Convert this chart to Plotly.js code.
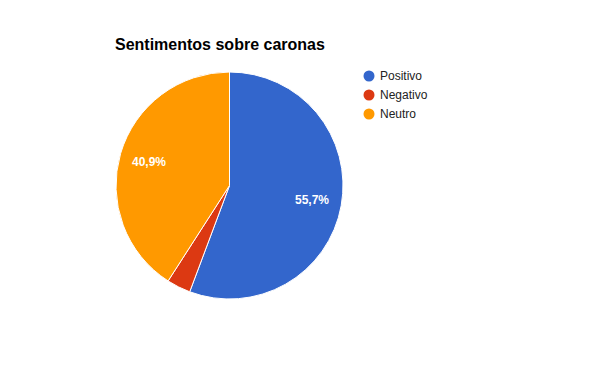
<!DOCTYPE html>
<html>
<head>
<meta charset="utf-8">
<script src="https://cdn.plot.ly/plotly-3.0.1.min.js"></script>
<style>html,body{margin:0;padding:0;background:#fff;}#chart{width:600px;height:371px;}</style>
</head>
<body>
<div id="chart"></div>
<script>
const categories = ['Positivo', 'Negativo', 'Neutro'];
const values = [55.7, 3.4, 40.9];
const colors = ['#3366cc', '#dc3912', '#ff9900'];
const chartTitle = 'Sentimentos sobre caronas';

const W = 600, H = 371;
const cx = 229.5, cy = 185.5, R = 113.5;
const domX = [(cx - R) / W, (cx + R) / W];
const domY = [1 - (cy + R) / H, 1 - (cy - R) / H];
const FONT = 'Liberation Sans, Arial, sans-serif';

const total = values.reduce((a, b) => a + b, 0);
const traces = [{
  type: 'pie',
  labels: categories,
  values: values,
  sort: false,
  direction: 'clockwise',
  rotation: 0,
  textinfo: 'none',
  hoverinfo: 'label+percent',
  showlegend: false,
  marker: { colors: colors, line: { color: '#ffffff', width: 1 } },
  domain: { x: domX, y: domY }
}];

// slice labels computed from data
const annotations = [];
const shapes = [];
let cum = 0;
values.forEach((v, i) => {
  const frac = v / total;
  const mid = (cum + frac / 2) * 2 * Math.PI;
  cum += frac;
  if (frac < 0.05) return;
  const r = R * 0.74;
  const px = cx + r * Math.sin(mid);
  const py = cy - r * Math.cos(mid);
  annotations.push({
    xref: 'paper', yref: 'paper', x: px / W, y: 1 - py / H,
    xanchor: 'center', yanchor: 'middle', showarrow: false,
    text: '<b>' + (frac * 100).toFixed(1).replace('.', ',') + '%</b>',
    font: { family: FONT, size: 12, color: '#ffffff' }
  });
});

// legend drawn as circles + text
const legX = 369, legY0 = 76, legStep = 19, legR = 5.5;
categories.forEach((c, i) => {
  const y = legY0 + i * legStep;
  shapes.push({
    type: 'circle', xref: 'paper', yref: 'paper',
    x0: (legX - legR) / W, x1: (legX + legR) / W,
    y0: 1 - (y + legR) / H, y1: 1 - (y - legR) / H,
    fillcolor: colors[i], line: { width: 0 }
  });
  annotations.push({
    xref: 'paper', yref: 'paper', x: (legX + 9) / W, y: 1 - y / H,
    xanchor: 'left', yanchor: 'middle', showarrow: false,
    text: c, font: { family: FONT, size: 12, color: '#222222' }
  });
});

const layout = {
  width: W, height: H,
  margin: { l: 0, r: 0, t: 0, b: 0 },
  paper_bgcolor: '#ffffff', plot_bgcolor: '#ffffff',
  font: { family: FONT, size: 12, color: '#222222' },
  title: {
    text: '<b>' + chartTitle + '</b>',
    x: 115 / W, xanchor: 'left', xref: 'paper',
    y: 1 - 44 / H, yanchor: 'middle', yref: 'container',
    font: { family: FONT, size: 16, color: '#000000' }
  },
  showlegend: false,
  shapes: shapes,
  annotations: annotations
};

Plotly.newPlot('chart', traces, layout, { displayModeBar: false, staticPlot: true });
</script>
</body>
</html>
